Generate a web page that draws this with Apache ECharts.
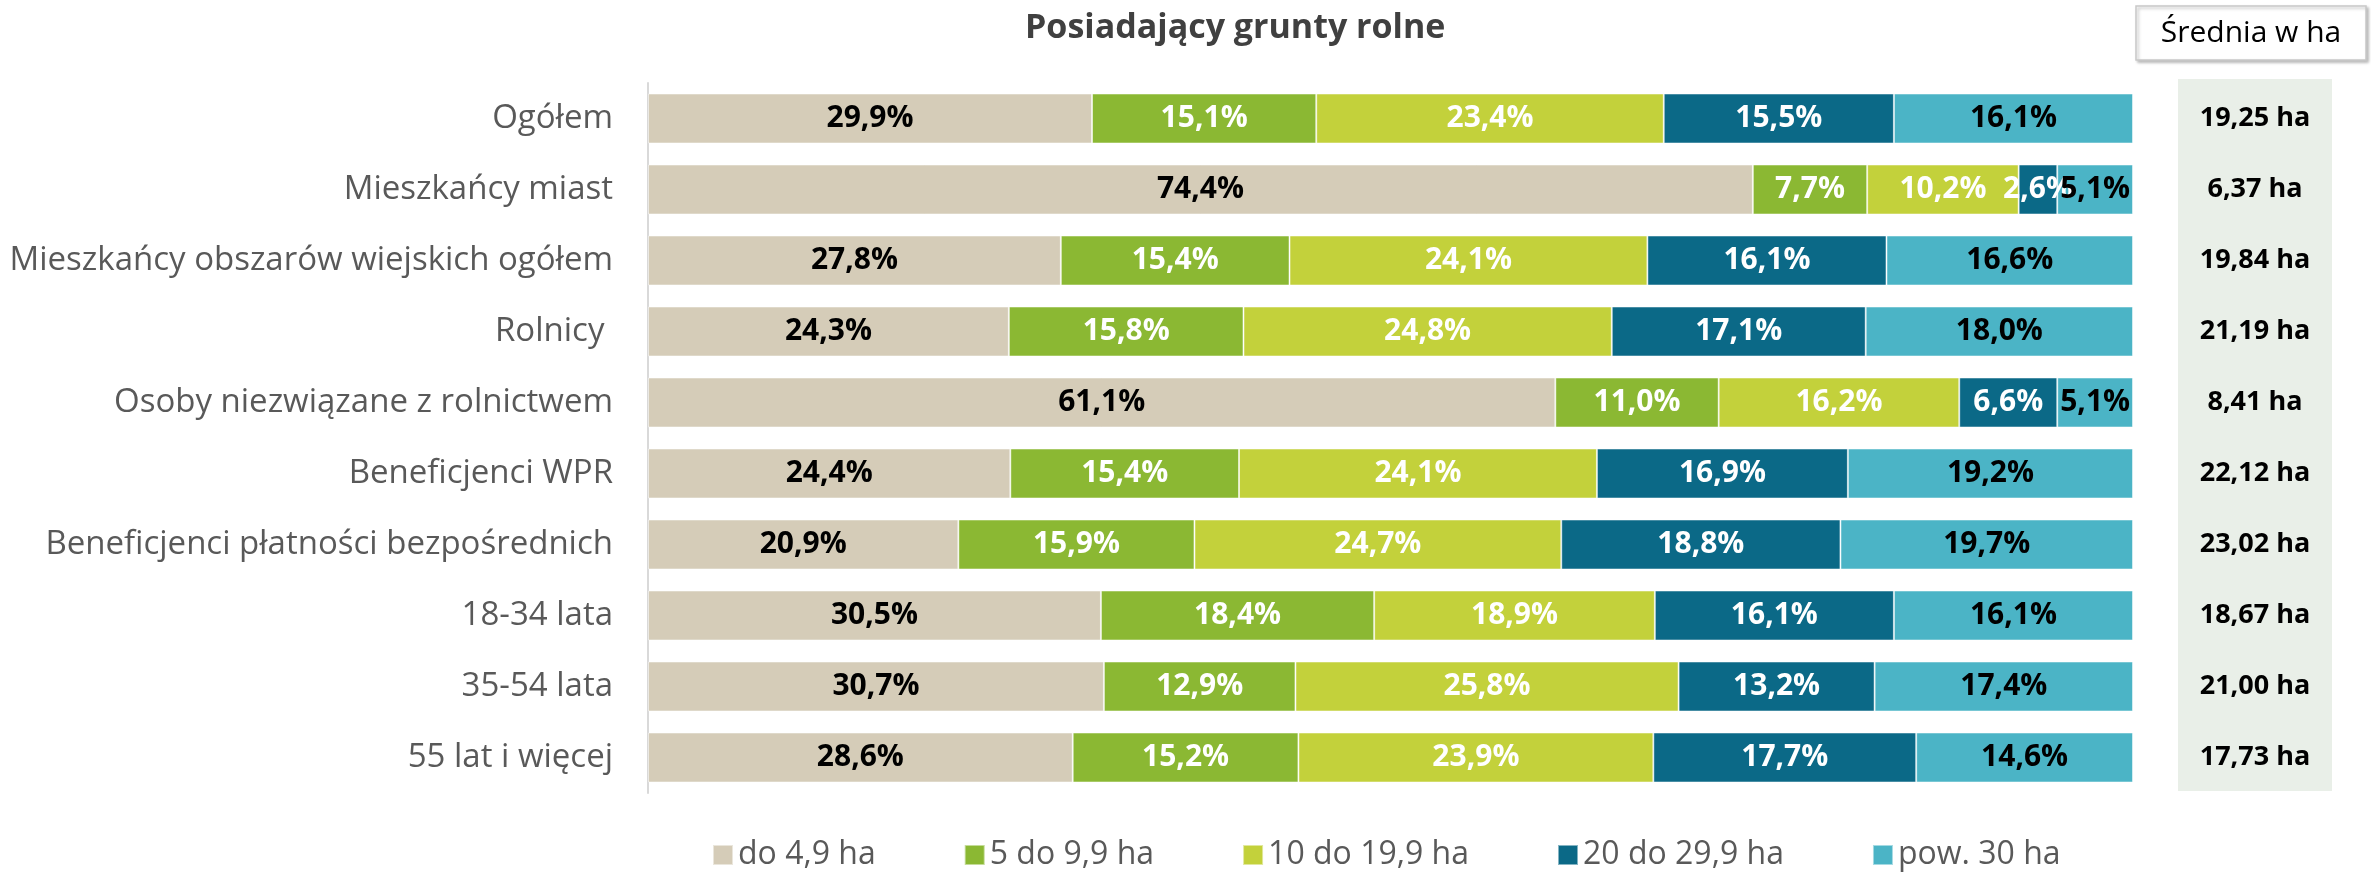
<!DOCTYPE html>
<html>
<head>
<meta charset="utf-8">
<script src="https://cdn.jsdelivr.net/npm/echarts@6/dist/echarts.min.js"></script>
<style>
  html, body { margin: 0; padding: 0; background: #fff; }
  #chart { width: 2371px; height: 874px; }
</style>
</head>
<body>
<div id="chart"></div>
<script>
const categories = [
  'Ogółem',
  'Mieszkańcy miast',
  'Mieszkańcy obszarów wiejskich ogółem',
  'Rolnicy ',
  'Osoby niezwiązane z rolnictwem',
  'Beneficjenci WPR',
  'Beneficjenci płatności bezpośrednich',
  '18-34 lata',
  '35-54 lata',
  '55 lat i więcej'
];
const do49 = [29.9, 74.4, 27.8, 24.3, 61.1, 24.4, 20.9, 30.5, 30.7, 28.6];
const od5do99 = [15.1, 7.7, 15.4, 15.8, 11.0, 15.4, 15.9, 18.4, 12.9, 15.2];
const od10do199 = [23.4, 10.2, 24.1, 24.8, 16.2, 24.1, 24.7, 18.9, 25.8, 23.9];
const od20do299 = [15.5, 2.6, 16.1, 17.1, 6.6, 16.9, 18.8, 16.1, 13.2, 17.7];
const pow30 = [16.1, 5.1, 16.6, 18.0, 5.1, 19.2, 19.7, 16.1, 17.4, 14.6];
const averages = ['19,25 ha', '6,37 ha', '19,84 ha', '21,19 ha', '8,41 ha', '22,12 ha', '23,02 ha', '18,67 ha', '21,00 ha', '17,73 ha'];

const seriesDefs = [
  { name: 'do 4,9 ha', data: do49, color: '#D5CCB8', text: '#000' },
  { name: '5 do 9,9 ha', data: od5do99, color: '#8BB833', text: '#fff' },
  { name: '10 do 19,9 ha', data: od10do199, color: '#C3D13B', text: '#fff' },
  { name: '20 do 29,9 ha', data: od20do299, color: '#0B6987', text: '#fff' },
  { name: 'pow. 30 ha', data: pow30, color: '#4BB4C6', text: '#000' }
];

const FONT = '"Open Sans", "Noto Sans", sans-serif';
const chart = echarts.init(document.getElementById('chart'));

const option = {
  animation: false,
  textStyle: { fontFamily: FONT },
  title: {
    text: 'Posiadający grunty rolne',
    left: 1020,
    top: 6,
    textStyle: { fontFamily: FONT, fontSize: 34, fontWeight: 'bold', color: '#404040' }
  },
  legend: {
    left: 707,
    top: 834,
    itemWidth: 20,
    itemHeight: 20,
    itemGap: 88,
    icon: 'rect',
    textStyle: { fontFamily: FONT, fontSize: 32, color: '#595959' },
    data: seriesDefs.map((s) => s.name)
  },
  grid: { left: 648, right: 238, top: 83, bottom: 81, containLabel: false },
  xAxis: { type: 'value', min: 0, max: 100, show: false },
  yAxis: [
    {
      type: 'category',
      inverse: true,
      data: categories,
      axisLine: { show: true, lineStyle: { color: '#D9D9D9', width: 2 } },
      axisTick: { show: false },
      axisLabel: { fontFamily: FONT, fontSize: 33, color: '#595959', margin: 35 }
    },
    {
      type: 'category',
      inverse: true,
      position: 'right',
      data: averages,
      axisLine: { show: false },
      axisTick: { show: false },
      axisLabel: { fontFamily: FONT, fontSize: 27, fontWeight: 'bold', color: '#000', align: 'center', margin: 122 }
    }
  ],
  graphic: [
    {
      type: 'rect',
      z: -10,
      shape: { x: 2178, y: 79, width: 154, height: 712 },
      style: { fill: '#E9EFE8' }
    },
    {
      type: 'rect',
      shape: { x: 2136, y: 6, width: 230, height: 54 },
      style: {
        fill: '#fff', stroke: '#C8C8C8', lineWidth: 1.5,
        shadowBlur: 3, shadowOffsetX: 2, shadowOffsetY: 2, shadowColor: 'rgba(0,0,0,0.25)'
      }
    },
    {
      type: 'text',
      x: 2251,
      y: 33,
      style: {
        text: 'Średnia w ha', fontFamily: FONT, fontSize: 30, fill: '#000',
        align: 'center', verticalAlign: 'middle'
      }
    }
  ],
  series: seriesDefs.map((s) => ({
    name: s.name,
    type: 'bar',
    stack: 'total',
    barWidth: 50,
    data: s.data,
    itemStyle: { color: s.color, borderColor: 'rgba(255,255,255,0.5)', borderWidth: 1 },
    label: {
      show: true,
      position: 'inside',
      fontFamily: FONT,
      fontSize: 30,
      fontWeight: 'bold',
      color: s.text,
      formatter: (p) => p.value.toFixed(1).replace('.', ',') + '%'
    }
  }))
};

chart.setOption(option);
</script>
</body>
</html>
